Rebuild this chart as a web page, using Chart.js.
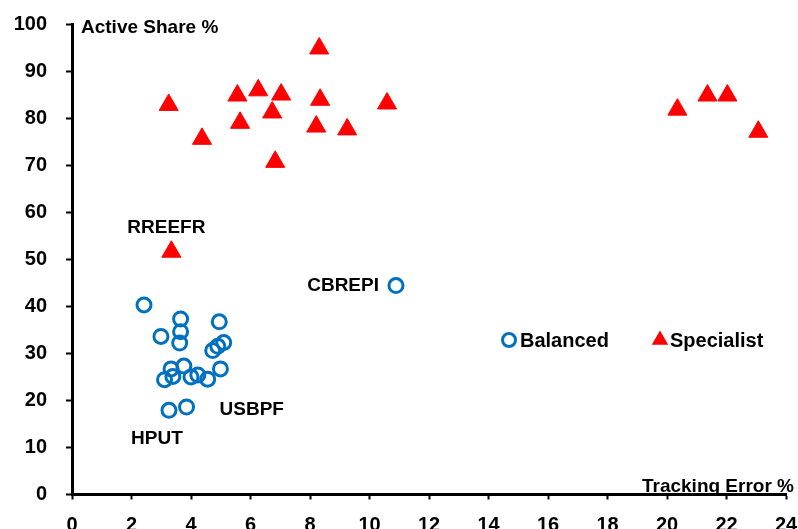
<!DOCTYPE html>
<html>
<head>
<meta charset="utf-8">
<script src="https://cdn.jsdelivr.net/npm/chart.js@4/dist/chart.umd.min.js"></script>
<style>
    html, body { margin: 0; padding: 0; background: #fff; }
    #wrap { width: 798px; height: 529px; position: relative; }
</style>
</head>
<body>
<div id="wrap"><canvas id="grafico"></canvas></div>
<script>
// ===== DADOS =====
const balancedX   = [2.42, 3.65, 2.99, 3.65, 3.62, 4.95, 5.10, 4.90, 4.73, 4.99, 3.33, 3.76, 3.39, 3.11, 4.00, 4.23, 4.56, 3.26, 3.85, 10.89];
const balancedY   = [40.3, 37.3, 33.6, 34.6, 32.2, 36.7, 32.3, 31.5, 30.6, 26.7, 26.7, 27.3, 25.1, 24.4, 25.0, 25.4, 24.5, 17.9, 18.6, 44.4];
const specialistX = [3.25, 4.37, 5.56, 5.65, 6.26, 6.73, 7.03, 6.83, 8.31, 8.34, 8.21, 9.25, 10.59, 20.35, 21.36, 22.03, 23.07, 3.34];
const specialistY = [82.8, 75.6, 84.8, 79.0, 85.9, 81.2, 85.0, 70.7, 94.8, 83.9, 78.2, 77.6, 83.1, 81.8, 84.8, 84.8, 77.1, 51.6];
const seriesNames = ['Balanced', 'Specialist'];

// fund labels: name, series, point index
const labelNames  = ['RREEFR', 'CBREPI', 'USBPF', 'HPUT'];
const labelSeries = [1, 0, 0, 0];
const labelIndex  = [17, 19, 18, 17];

const xTicks = { min: 0, max: 24, step: 2 };
const yTicks = { min: 0, max: 100, step: 10 };

const AZUL     = '#0070C0';
const VERMELHO = '#FF0000';
const FONTE    = "'Liberation Sans', Arial, sans-serif";

function pontos(xs, ys) {
    return xs.map((x, i) => ({ x: x, y: ys[i] }));
}

// ===== PLUGIN — títulos, legenda e rótulos =====
const extras = {
    id: 'extras',
    afterDatasetsDraw(chart) {
        const ctx  = chart.ctx;
        const area = chart.chartArea;
        ctx.save();
        ctx.fillStyle = '#000';

        // axis titles inside the plot
        ctx.font = 'bold 19px ' + FONTE;
        ctx.textBaseline = 'alphabetic';
        ctx.textAlign = 'left';
        ctx.fillText('Active Share %', area.left + 9, area.top + 9);
        ctx.textAlign = 'right';
        ctx.fillText('Tracking Error %', area.right + 8, area.bottom - 3);

        // point labels
        const offsets = {
            RREEFR: [-5, -24, 'center'],
            CBREPI: [-17, 0, 'right'],
            USBPF:  [33, 3, 'left'],
            HPUT:   [-12, 28, 'center']
        };
        ctx.font = 'bold 19px ' + FONTE;
        ctx.textBaseline = 'middle';
        labelNames.forEach((nome, i) => {
            const el = chart.getDatasetMeta(labelSeries[i]).data[labelIndex[i]];
            const o = offsets[nome];
            ctx.textAlign = o[2];
            ctx.fillText(nome, el.x + o[0], el.y + o[1]);
        });

        // legend
        const ly = area.top + 316;
        const lx = area.left + 437;
        ctx.font = 'bold 20px ' + FONTE;
        ctx.textAlign = 'left';
        ctx.textBaseline = 'middle';

        ctx.beginPath();
        ctx.arc(lx, ly, 6.5, 0, Math.PI * 2);
        ctx.lineWidth = 3;
        ctx.strokeStyle = AZUL;
        ctx.stroke();
        ctx.fillStyle = '#000';
        ctx.fillText(seriesNames[0], lx + 11, ly + 1);

        const tx = lx + 151;
        const r = 9.5;
        ctx.beginPath();
        ctx.moveTo(tx, ly - r);
        ctx.lineTo(tx + r * Math.sin(Math.PI * 2 / 3), ly + r / 2);
        ctx.lineTo(tx - r * Math.sin(Math.PI * 2 / 3), ly + r / 2);
        ctx.closePath();
        ctx.fillStyle = VERMELHO;
        ctx.fill();
        ctx.fillStyle = '#000';
        ctx.fillText(seriesNames[1], tx + 10, ly + 1);

        ctx.restore();
    }
};

// ===== GRÁFICO =====
const grafico = new Chart(document.getElementById('grafico').getContext('2d'), {
    type: 'scatter',
    data: {
        datasets: [
            {
                label:                seriesNames[0],
                data:                 pontos(balancedX, balancedY),
                pointStyle:           'circle',
                pointRadius:          7,
                pointHoverRadius:     7,
                pointBorderWidth:     3,
                pointHoverBorderWidth: 3,
                pointBorderColor:     AZUL,
                pointBackgroundColor: 'rgba(255,255,255,0)',
                borderColor:          AZUL,
                backgroundColor:      'rgba(255,255,255,0)',
            },
            {
                label:                seriesNames[1],
                data:                 pontos(specialistX, specialistY),
                pointStyle:           'triangle',
                pointRadius:          11,
                pointHoverRadius:     11,
                pointBorderWidth:     1,
                pointBorderColor:     VERMELHO,
                pointBackgroundColor: VERMELHO,
                borderColor:          VERMELHO,
                backgroundColor:      VERMELHO,
            }
        ]
    },
    options: {
        responsive: true,
        maintainAspectRatio: false,
        animation: false,
        layout: { padding: { top: 24, right: 10, left: 0, bottom: 0 } },
        plugins: {
            legend:  { display: false },
            tooltip: { enabled: false }
        },
        scales: {
            x: {
                type: 'linear',
                min: xTicks.min,
                max: xTicks.max,
                ticks: { stepSize: xTicks.step, padding: 14, color: '#000', font: { family: FONTE, size: 20, weight: 'bold' } },
                grid:  { drawOnChartArea: false, drawTicks: true, tickLength: 5, tickWidth: 2, tickColor: '#000' },
                border: { display: true, width: 3, color: '#000' },
                afterFit: s => { s.height = 34.5; s.paddingLeft = 0; s.paddingRight = 0; }
            },
            y: {
                type: 'linear',
                min: yTicks.min,
                max: yTicks.max,
                ticks: { stepSize: yTicks.step, padding: 19, color: '#000', font: { family: FONTE, size: 20, weight: 'bold' } },
                grid:  { drawOnChartArea: false, drawTicks: true, tickLength: 6, tickWidth: 2, tickColor: '#000' },
                border: { display: true, width: 3, color: '#000' },
                afterFit: s => { s.width = 72; s.paddingTop = 0; s.paddingBottom = 0; }
            }
        }
    },
    plugins: [extras]
});
</script>
</body>
</html>
